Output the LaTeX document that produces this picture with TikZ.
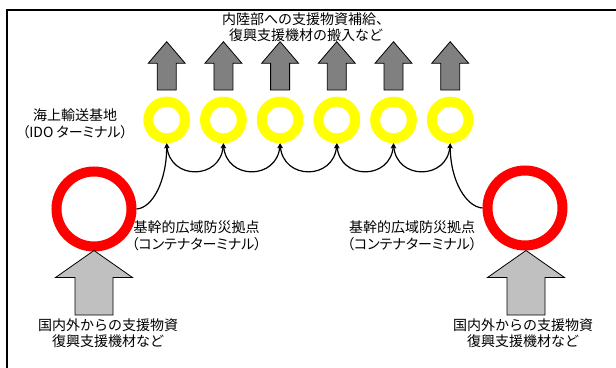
\documentclass[tikz,border=0pt]{standalone}
\usepackage{fontspec}
\newfontfamily\jp{Noto Sans CJK JP}
\newfontfamily\jpp[RawFeature=+palt]{Noto Sans CJK JP}
\usetikzlibrary{arrows.meta}
\definecolor{ringyellow}{HTML}{FFFF00}
\definecolor{ringred}{HTML}{FF0000}
\definecolor{darkarrow}{HTML}{808080}
\definecolor{lightarrow}{HTML}{C0C0C0}
\begin{document}
\begin{tikzpicture}[x=1pt,y=-1pt,
  yring/.style={circle,draw=ringyellow,line width=10pt,minimum size=36.7pt,inner sep=0pt},
  rring/.style={circle,draw=ringred,line width=10pt,minimum size=75pt,inner sep=0pt},
  conn/.style={line width=1.2pt,black},
  lbl/.style={font=\jp\fontsize{14}{16.5}\selectfont,align=center,inner sep=0pt,text=black},
  lblp/.style={font=\jpp\fontsize{14}{16.5}\selectfont,align=center,inner sep=0pt,text=black},
  uparrow/.style={fill=darkarrow,draw=black,line width=0.8pt,line join=miter},
  inarrow/.style={fill=lightarrow,draw=black,line width=0.8pt,line join=miter}
]
\useasboundingbox (0,0) rectangle (616,367);
% frame
\draw[line width=2pt] (7,368) -- (7,9.5) -- (617,9.5);

% yellow rings (IDO terminal)
\foreach \i/\x in {1/166.7,2/223.4,3/280.1,4/336.8,5/393.5,6/450.2}{
  \node[yring] (y\i) at (\x,120) {};
  % outgoing dark arrows
  \draw[uparrow] (\x,41.7) -- (\x+18.5,63.3) -- (\x+9.5,63.3) -- (\x+9.5,90)
     -- (\x-9.5,90) -- (\x-9.5,63.3) -- (\x-18.5,63.3) -- cycle;
}

% red rings
\node[rring] (r1) at (94,209) {};
\node[rring] (r2) at (525,208) {};

% incoming light arrows
\foreach \x in {94,526}{
  \draw[inarrow] (\x,250.5) -- (\x+38.5,277.5) -- (\x+19,277.5) -- (\x+19,315)
     -- (\x-19,315) -- (\x-19,277.5) -- (\x-38.5,277.5) -- cycle;
}

% connectors between yellow rings
\foreach \a/\b in {1/2,2/3,3/4,4/5,5/6}{
  \draw[conn,{Stealth[length=5pt,width=5pt]}-{Stealth[length=5pt,width=5pt]}]
    (y\a.south) .. controls +(3,37) and +(-3,37) .. (y\b.south);
}
\draw[conn,-{Stealth[length=5pt,width=5pt]}]
  (r1.east) .. controls +(16,-1) and +(0,38) .. (y1.south);
\draw[conn,{Stealth[length=5pt,width=5pt]}-]
  (y6.south) .. controls +(0,38) and +(-16,-1) .. (r2.west);

% labels
\node[lbl] (title) at (306,27) {内陸部への支援物資補給、\\復興支援機材の搬入など};
\node[lblp] (ido) at (75,124) {海上輸送基地\\（IDO ターミナル）};
\node[lblp] (baseL) at (196.5,236) {基幹的広域防災拠点\\（コンテナターミナル）};
\node[lblp] (baseR) at (412,236) {基幹的広域防災拠点\\（コンテナターミナル）};
\node[lbl] (srcL) at (108,333) {国内外からの支援物資\\復興支援機材など};
\node[lbl] (srcR) at (523,333) {国内外からの支援物資\\復興支援機材など};
\end{tikzpicture}
\end{document}
